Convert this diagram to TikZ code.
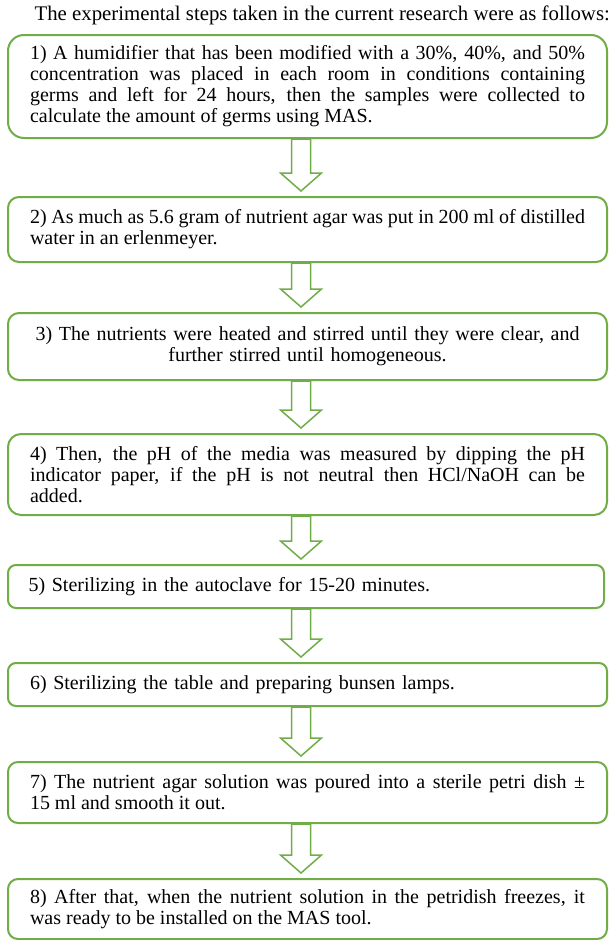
\documentclass[tikz,border=0pt]{standalone}
\usepackage{fontspec}
\setmainfont{Liberation Serif}
\usetikzlibrary{calc}
\definecolor{grn}{HTML}{70AD47}
\newcommand{\blkarrow}[2]{%
  \draw[blkarr] let \p1=(#1.south), \p2=(#2.north) in
    (291.5pt,\y1) -- (310.5pt,\y1) -- (310.5pt,\y2+23pt) -- (321.5pt,\y2+23pt)
    -- (301pt,\y2+5pt) -- (280.5pt,\y2+23pt) -- (291.5pt,\y2+23pt) -- cycle;}
\begin{document}
\begin{tikzpicture}[x=1pt,y=-1pt,
  txt/.style={font=\fontsize{20}{21}\selectfont},
  stepbox/.style={draw=grn, line width=2pt, fill=white, inner sep=0pt,
    minimum width=599pt, text width=555pt, align=justify, txt},
  blkarr/.style={draw=grn, line width=1.5pt, fill=white, line join=miter}]
\fill[white] (0,0) rectangle (612,940);
\useasboundingbox (0,0) rectangle (612,940);
\node[anchor=east, font=\fontsize{20.8}{21}\selectfont, inner sep=0pt] (title) at (610,15)
  {The experimental steps taken in the current research were as follows:};
\node[stepbox, minimum height=103pt, rounded corners=16pt] (b1) at (307.5,86.5)
  {1) A humidifier that has been modified with a 30\%, 40\%, and 50\%\linebreak
   concentration was placed in each room in conditions containing\linebreak
   germs and left for 24 hours, then the samples were collected to\linebreak
   calculate the amount of germs using MAS.};
\node[stepbox, minimum height=65pt, rounded corners=11pt] (b2) at (307.5,229.5)
  {2) As much as 5.6 gram of nutrient agar was put in 200 ml of distilled\linebreak
   water in an erlenmeyer.};
\node[stepbox, minimum height=67pt, rounded corners=11pt, align=center] (b3) at (307.5,346.5)
  {3) The nutrients were heated and stirred until they were clear, and\\
   further stirred until homogeneous.};
\node[stepbox, minimum height=81pt, rounded corners=13pt] (b4) at (307.5,474.5)
  {4) Then, the pH of the media was measured by dipping the pH\linebreak
   indicator paper, if the pH is not neutral then HCl/NaOH can be\linebreak
   added.};
\node[stepbox, minimum width=596pt, minimum height=43pt, rounded corners=8pt, align=left] (b5) at (306,586.5)
  {5) Sterilizing in the autoclave for 15-20 minutes.};
\node[stepbox, minimum height=43pt, rounded corners=8pt, align=left] (b6) at (307.5,684.5)
  {6) Sterilizing the table and preparing bunsen lamps.};
\node[stepbox, minimum height=61pt, rounded corners=10pt] (b7) at (307.5,792.5)
  {7) The nutrient agar solution was poured into a sterile petri dish ±\linebreak
   15 ml and smooth it out.};
\node[stepbox, minimum height=60pt, rounded corners=10pt] (b8) at (307.5,909)
  {8) After that, when the nutrient solution in the petridish freezes, it\linebreak
   was ready to be installed on the MAS tool.};
\blkarrow{b1}{b2}
\blkarrow{b2}{b3}
\blkarrow{b3}{b4}
\blkarrow{b4}{b5}
\blkarrow{b5}{b6}
\blkarrow{b6}{b7}
\blkarrow{b7}{b8}
\end{tikzpicture}
\end{document}
